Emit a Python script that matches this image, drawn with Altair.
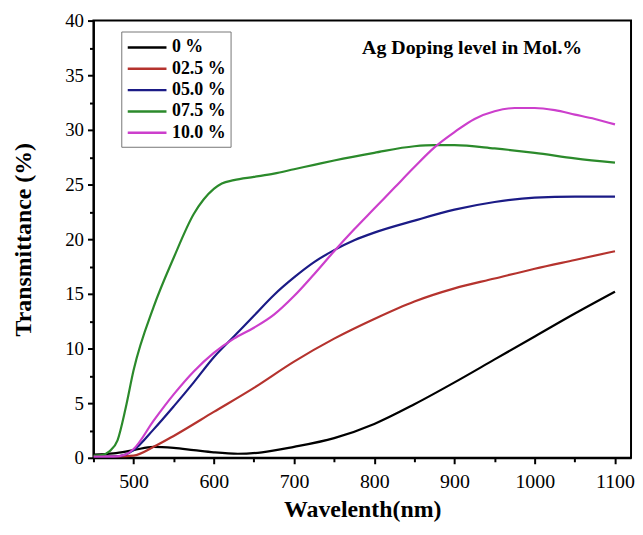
import altair as alt
import pandas as pd

series = ["0 %", "02.5 %", "05.0 %", "07.5 %", "10.0 %"]
colors = ["#000000", "#b5332e", "#1b1b86", "#2b8a2b", "#cc3fcc"]

wl_0 = [450, 475, 500, 525, 550, 575, 600, 630, 660, 700, 750, 800, 850, 900, 950, 1000, 1050, 1100]
t_0 = [0.3, 0.4, 0.7, 1.0, 0.9, 0.7, 0.5, 0.37, 0.5, 1.0, 1.8, 3.1, 4.9, 6.9, 9.0, 11.1, 13.2, 15.2]

wl_25 = [450, 475, 500, 525, 550, 600, 650, 700, 750, 800, 850, 900, 950, 1000, 1050, 1100]
t_25 = [0.1, 0.1, 0.2, 1.0, 2.0, 4.2, 6.4, 8.8, 10.9, 12.7, 14.3, 15.5, 16.4, 17.3, 18.1, 18.9]

wl_50 = [450, 475, 490, 500, 525, 550, 575, 600, 625, 650, 675, 700, 725, 750, 775, 800, 850, 900, 950, 1000, 1050, 1100]
t_50 = [0.1, 0.1, 0.3, 0.7, 2.6, 4.7, 6.9, 9.2, 11.1, 13.0, 14.9, 16.5, 17.9, 19.0, 19.9, 20.6, 21.7, 22.7, 23.4, 23.8, 23.9, 23.9]

wl_75 = [450, 460, 470, 480, 490, 500, 525, 550, 575, 600, 610, 625, 650, 675, 700, 725, 750, 800, 850, 875, 900, 950, 1000, 1050, 1100]
t_75 = [0.2, 0.25, 0.6, 1.6, 4.5, 8.0, 13.8, 18.3, 22.3, 24.6, 25.1, 25.4, 25.7, 26.0, 26.4, 26.8, 27.2, 27.9, 28.5, 28.6, 28.6, 28.3, 27.9, 27.4, 27.0]

wl_100 = [450, 475, 490, 500, 525, 550, 575, 600, 625, 650, 675, 700, 725, 750, 775, 800, 825, 850, 875, 900, 925, 950, 975, 1000, 1025, 1050, 1075, 1100]
t_100 = [0.1, 0.1, 0.3, 0.8, 3.4, 5.8, 7.9, 9.6, 10.9, 11.9, 13.1, 14.8, 16.8, 18.9, 20.9, 22.8, 24.7, 26.6, 28.4, 29.8, 31.0, 31.7, 32.0, 32.0, 31.8, 31.4, 31.0, 30.5]

x_major = [500, 600, 700, 800, 900, 1000, 1100]
x_minor = [450, 550, 650, 750, 850, 950, 1050]
y_major = [0, 5, 10, 15, 20, 25, 30, 35, 40]
y_minor = [2.5, 7.5, 12.5, 17.5, 22.5, 27.5, 32.5, 37.5]

annot_text = ["Ag Doping level in Mol.%"]
annot_x = [922]
annot_y = [37.45]

rows = []
for name, xs, ys in zip(series, [wl_0, wl_25, wl_50, wl_75, wl_100],
                        [t_0, t_25, t_50, t_75, t_100]):
    for i, (xv, yv) in enumerate(zip(xs, ys)):
        rows.append({"series": name, "wl": xv, "t": yv, "order": i})
df = pd.DataFrame(rows)
annot = pd.DataFrame({"label": annot_text, "x": annot_x, "y": annot_y})

FONT = "Liberation Serif"
xscale = alt.Scale(domain=[450, 1120], nice=False, zero=False)
yscale = alt.Scale(domain=[0, 40], nice=False)

lines = alt.Chart(df).mark_line(strokeWidth=2.2, interpolate="monotone", clip=True).encode(
    x=alt.X("wl:Q", scale=xscale,
            axis=alt.Axis(orient="bottom", values=x_major, format="d", title="Wavelenth(nm)",
                          tickSize=6, tickWidth=2, labelFontSize=20, labelFont=FONT,
                          labelPadding=8, titleFont=FONT, titleFontSize=24,
                          titleFontWeight="bold", titlePadding=6, domainWidth=2,
                          domainColor="black", tickColor="black", labelColor="black",
                          titleColor="black", grid=False)),
    y=alt.Y("t:Q", scale=yscale,
            axis=alt.Axis(orient="left", values=y_major, title="Transmittance (%)",
                          tickSize=6, tickWidth=2, labelFontSize=19, labelFont=FONT,
                          labelPadding=4, titleFont=FONT, titleFontSize=24,
                          titleFontWeight="bold", titlePadding=29, domainWidth=2,
                          domainColor="black", tickColor="black", labelColor="black",
                          titleColor="black", grid=False)),
    color=alt.Color("series:N", scale=alt.Scale(domain=series, range=colors),
                    legend=alt.Legend(title=None, orient="none", legendX=28, legendY=11,
                                      symbolType="M-2,0H2", symbolSize=380,
                                      symbolOffset=10,
                                      symbolStrokeWidth=2.5, labelFont=FONT,
                                      labelFontSize=18, labelFontWeight="bold",
                                      labelColor="black", labelOffset=14,
                                      rowPadding=1.5, padding=5,
                                      strokeColor="#777777", fillColor="white")),
    order="order:Q",
)

minor = alt.Chart(df).mark_line(opacity=0).encode(
    x=alt.X("wl:Q", scale=xscale,
            axis=alt.Axis(orient="bottom", values=x_minor, labels=False, title=None,
                          domain=False, tickSize=4, tickWidth=2, tickColor="black",
                          grid=False)),
    y=alt.Y("t:Q", scale=yscale,
            axis=alt.Axis(orient="left", values=y_minor, labels=False, title=None,
                          domain=False, tickSize=4, tickWidth=2, tickColor="black",
                          grid=False)),
    detail="series:N",
)

text = alt.Chart(annot).mark_text(font=FONT, fontSize=20, fontWeight="bold",
                                  color="black", align="center", baseline="middle").encode(
    x=alt.X("x:Q", scale=xscale, axis=None),
    y=alt.Y("y:Q", scale=yscale, axis=None),
    text="label:N",
)

chart = alt.layer(lines, minor, text).resolve_axis(
    x="independent", y="independent"
).properties(
    width=541, height=440,
    autosize=alt.AutoSizeParams(type="none"),
    padding={"left": 86, "top": 11, "right": 4, "bottom": 68},
).configure_view(stroke="black", strokeWidth=2)

chart.save("out.html", embed_options={"renderer": "svg", "actions": False})
